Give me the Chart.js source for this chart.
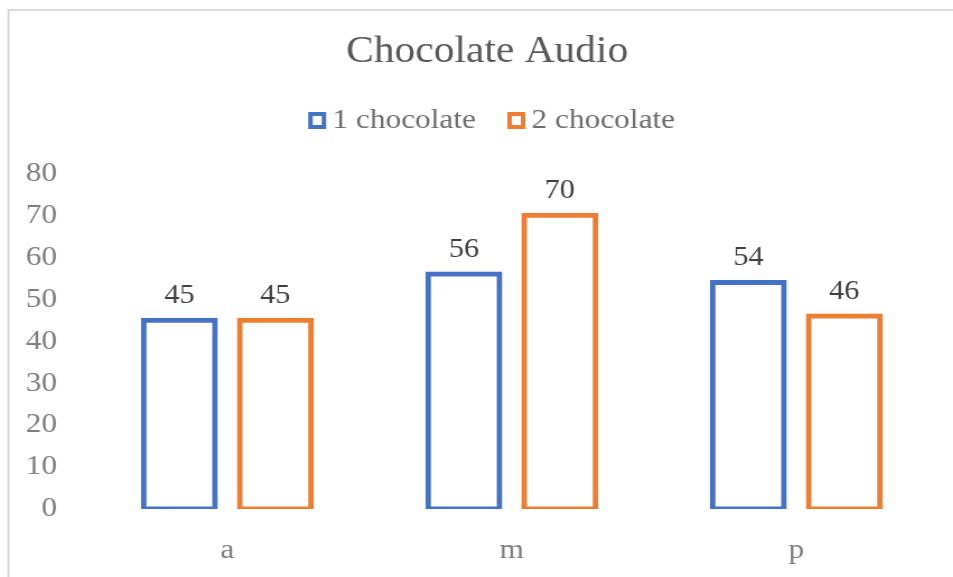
<!DOCTYPE html>
<html>
<head>
<meta charset="utf-8">
<title>Chocolate Audio</title>
<script src="https://cdn.jsdelivr.net/npm/chart.js@4.4.1/dist/chart.umd.min.js"></script>
<style>
  html, body { margin: 0; padding: 0; background: #fff; overflow: hidden; }
  #wrap { position: relative; width: 953px; height: 577px; overflow: hidden; }
  /* canvas is drawn narrower and stretched a little sideways */
  #myChart { position: absolute; left: 0; top: 0; transform: scaleX(1.12); transform-origin: 0 0; }
</style>
</head>
<body>
<div id="wrap">
  <canvas id="myChart" width="870" height="577"></canvas>
</div>
<script>
const categories = ["a", "m", "p"];
const series1 = [45, 56, 54];
const series2 = [45, 70, 46];
const seriesNames = ["1 chocolate", "2 chocolate"];
const yTicks = [0, 10, 20, 30, 40, 50, 60, 70, 80];

const blue = "#4472C4";
const orange = "#ED7D31";
const serif = "'Liberation Serif', 'Times New Roman', serif";

// light gray frame round the chart
const framePlugin = {
  id: "frame",
  beforeDraw(chart) {
    const ctx = chart.ctx;
    ctx.save();
    ctx.fillStyle = "#fff";
    ctx.fillRect(0, 0, chart.width, chart.height);
    ctx.strokeStyle = "#d9d9d9";
    ctx.lineWidth = 2;
    ctx.strokeRect(7.6, 10, chart.width + 20, chart.height + 20);
    ctx.restore();
  }
};

// legend drawn by hand: small hollow squares, text close to the box
const legendRow = {
  id: "legendRow",
  afterDraw(chart) {
    const ctx = chart.ctx;
    const boxW = 16, boxH = 17, textGap = 5.5, itemGap = 28;
    const y = 120.5;
    ctx.save();
    ctx.font = "28px " + serif;
    const items = chart.data.datasets.map(ds => ({
      text: ds.label,
      color: ds.borderColor,
      w: ctx.measureText(ds.label).width
    }));
    let total = 0;
    items.forEach((it, i) => {
      total += boxW + textGap + it.w + (i ? itemGap : 0);
    });
    let x = chart.width / 2 + 4 - total / 2;
    items.forEach(it => {
      ctx.strokeStyle = it.color;
      ctx.lineWidth = 4;
      ctx.fillStyle = "#fff";
      ctx.fillRect(x, y - boxH / 2, boxW, boxH);
      ctx.strokeRect(x + 2, y - boxH / 2 + 2, boxW - 4, boxH - 4);
      x += boxW + textGap;
      ctx.fillStyle = "#6e6e6e";
      ctx.textAlign = "left";
      ctx.textBaseline = "middle";
      ctx.fillText(it.text, x, y);
      x += it.w + itemGap;
    });
    ctx.restore();
  }
};

// value written above each bar
const valueLabels = {
  id: "valueLabels",
  afterDatasetsDraw(chart) {
    const ctx = chart.ctx;
    ctx.save();
    ctx.font = "27px " + serif;
    ctx.fillStyle = "#404040";
    ctx.textAlign = "center";
    ctx.textBaseline = "alphabetic";
    chart.data.datasets.forEach((ds, i) => {
      chart.getDatasetMeta(i).data.forEach((bar, j) => {
        ctx.fillText(String(ds.data[j]), bar.x, bar.y - 17.5);
      });
    });
    ctx.restore();
  }
};

const ctx = document.getElementById("myChart").getContext("2d");

new Chart(ctx, {
  type: "bar",
  data: {
    labels: categories,
    datasets: [
      {
        label: seriesNames[0],
        data: series1,
        backgroundColor: "#ffffff",
        borderColor: blue,
        borderWidth: 5,
        borderSkipped: false,
        inflateAmount: 2.5
      },
      {
        label: seriesNames[1],
        data: series2,
        backgroundColor: "#ffffff",
        borderColor: orange,
        borderWidth: 5,
        borderSkipped: false,
        inflateAmount: 2.5
      }
    ]
  },
  options: {
    responsive: false,
    animation: false,
    devicePixelRatio: 1,
    layout: { padding: 0 },
    datasets: {
      bar: { categoryPercentage: 0.675, barPercentage: 0.744 }
    },
    plugins: {
      tooltip: { enabled: false },
      legend: { display: false },
      title: {
        display: true,
        text: "Chocolate Audio",
        color: "#595959",
        font: { family: serif, size: 37, weight: "normal", lineHeight: 1.2 },
        padding: { top: 30, bottom: 5 }
      },
      // empty band that holds the legend row
      subtitle: {
        display: true,
        text: "",
        position: "top",
        font: { size: 10, lineHeight: 1.2 },
        padding: { top: 82, bottom: 0 }
      }
    },
    scales: {
      x: {
        grid: { display: false, drawTicks: false },
        border: { display: false },
        ticks: {
          color: "#7f7f7f",
          font: { family: serif, size: 28 },
          padding: 25
        },
        afterFit(scale) { scale.height = 68; }
      },
      y: {
        min: 0,
        max: 80,
        grid: { display: false, drawTicks: false },
        border: { display: false },
        afterBuildTicks(scale) {
          scale.ticks = yTicks.map(v => ({ value: v }));
        },
        ticks: {
          color: "#7f7f7f",
          font: { family: serif, size: 28 },
          padding: 25
        },
        afterFit(scale) { scale.width = 76; }
      },
      // blank strip on the right so the title stays centred on the full width
      yRight: {
        position: "right",
        display: true,
        grid: { display: false, drawTicks: false },
        border: { display: false },
        ticks: { display: false },
        afterFit(scale) { scale.width = 32; }
      }
    }
  },
  plugins: [framePlugin, valueLabels, legendRow]
});
</script>
</body>
</html>
